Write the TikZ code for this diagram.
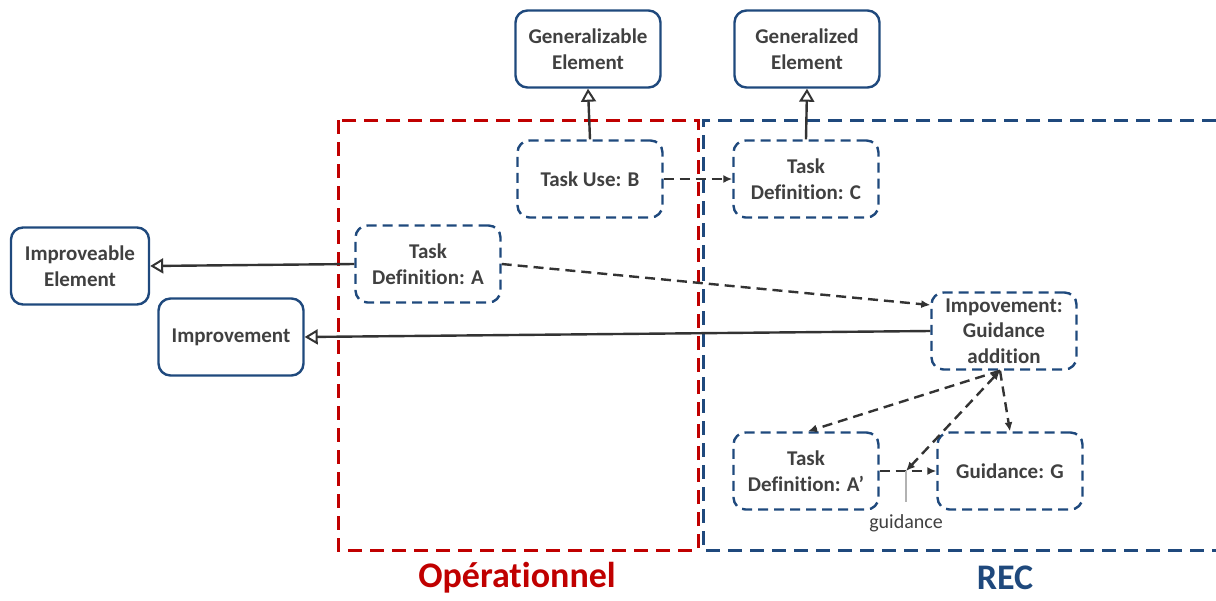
\documentclass[tikz,border=0pt]{standalone}
\usepackage{fontspec}
\setmainfont[Ligatures=NoCommon]{Carlito}
\usetikzlibrary{arrows.meta}
\definecolor{cblue}{RGB}{31,73,125}
\definecolor{cred}{RGB}{192,0,0}
\definecolor{ctext}{RGB}{64,64,64}
\definecolor{cline}{RGB}{51,51,51}
\begin{document}
\begin{tikzpicture}[x=1pt,y=-1pt,
  solidbox/.style={draw=cblue, line width=2.4pt, rounded corners=12pt, minimum width=145pt, minimum height=77pt, align=center, font=\fontsize{21}{25.5}\selectfont\bfseries, text=ctext, inner sep=2pt},
  dashbox/.style={solidbox, dash pattern=on 10pt off 6pt},
  inherit/.style={draw=cline, line width=2.4pt, -{Triangle[open, length=13pt, width=15pt, line width=2pt]}},
  dep/.style={draw=cline, line width=2.4pt, dash pattern=on 10pt off 6pt, -{Latex[length=9pt, width=8pt]}},
  region/.style={line width=3pt, dash pattern=on 14pt off 8pt}
]
\useasboundingbox (0,0) rectangle (1216,600);
% regions
\draw[region, draw=cred] (338,120) rectangle (698,550);
\draw[region, draw=cblue] (1216,120) -- (703,120) -- (703,550) -- (1216,550);
\node[font=\fontsize{36}{42}\selectfont\bfseries, text=cred] (op) at (517,578) {Opérationnel};
\node[font=\fontsize{36}{42}\selectfont\bfseries, text=cblue] (rec) at (1005,578) {REC};
% nodes
\node[solidbox] (gen) at (588,49) {Generalizable\\Element};
\node[solidbox] (gend) at (807,49) {Generalized\\Element};
\node[dashbox] (B) at (590,179) {Task Use: B};
\node[dashbox] (C) at (806,179) {Task\\Definition: C};
\node[dashbox] (A) at (428,264) {Task\\Definition: A};
\node[solidbox, minimum width=138pt] (impel) at (80,266) {Improveable\\Element};
\node[solidbox] (impr) at (231,337) {Improvement};
\node[dashbox] (IG) at (1004,331) {Impovement:\\Guidance\\addition};
\node[dashbox] (Ap) at (806,471) {Task\\Definition: A’};
\node[dashbox] (G) at (1010,471) {Guidance: G};
% connectors
\draw[inherit] (B.north) -- (gen.south);
\draw[inherit] (C.north) -- (gend.south);
\draw[inherit] (A.west) -- (impel.east);
\draw[inherit] (IG.west) -- (impr.east);
\draw[dep] (B.east) -- (C.west);
\draw[dep] (A.east) -- ([yshift=26pt]IG.west);
\coordinate (IGb) at ([xshift=-4pt]IG.south);
\draw[dep] (IGb) -- ([xshift=2pt]Ap.north);
\draw[dep] (IGb) -- (G.north);
\coordinate (mid) at (906,471);
\draw[dep] (Ap.east) -- (G.west);
\draw[dep, {Latex[length=9pt, width=8pt]}-{Latex[length=9pt, width=8pt]}] (IGb) -- (mid);
\draw[draw=gray!60, line width=1.2pt] (mid) -- (906,502);
\node[font=\fontsize{20}{24}\selectfont, text=ctext] (glab) at (906,523) {guidance};
\end{tikzpicture}
\end{document}
